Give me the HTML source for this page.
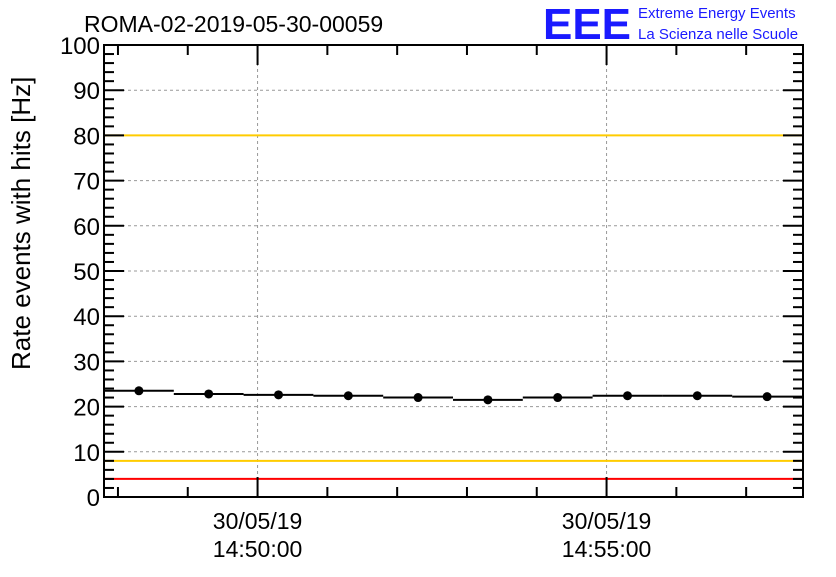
<!DOCTYPE html>
<html><head><meta charset="utf-8"><style>
body{margin:0;background:#fff;}
svg text{font-family:"Liberation Sans",sans-serif;}
</style></head><body>
<svg width="836" height="572" xmlns="http://www.w3.org/2000/svg">
<rect width="836" height="572" fill="#fff"/>
<text x="84" y="32" font-size="23">ROMA-02-2019-05-30-00059</text>
<text x="543" y="39" font-size="44" font-weight="bold" fill="#1a1aff" textLength="88" lengthAdjust="spacingAndGlyphs">EEE</text>
<text x="638" y="18" font-size="15" fill="#1a1aff">Extreme Energy Events</text>
<text x="638" y="39" font-size="15" fill="#1a1aff">La Scienza nelle Scuole</text>
<text transform="translate(30,370) rotate(-90)" font-size="26">Rate events with hits [Hz]</text>
<g id="grid"></g>
<g id="marks"></g>
<g id="axes"></g>
</svg>
<script>
const values=[23.5,22.8,22.6,22.4,22.0,21.5,22.0,22.4,22.4,22.2];
const yTicks=[0,10,20,30,40,50,60,70,80,90,100];
const xMajorLabels=[["30/05/19","14:50:00"],["30/05/19","14:55:00"]];
const xMajorMinutes=[2,7];
const refRed=[100,4];
const refOrange=[80,8];
const X0=104,X1=803,Y0=497,Y1=45;
const pxPerMin=69.8, startMin=-0.2;
function y(v){return Y0-(v/100)*(Y0-Y1);}
function x(m){return X0+(m-startMin)*pxPerMin;}
const NS="http://www.w3.org/2000/svg";
function mk(tag,attrs,parent){const e=document.createElementNS(NS,tag);for(const k in attrs)e.setAttribute(k,attrs[k]);parent.appendChild(e);return e;}
const grid=document.getElementById('grid'),marks=document.getElementById('marks'),axes=document.getElementById('axes');
yTicks.forEach(v=>{
 if(v>0&&v<100){const l=mk('line',{x1:X0,x2:X1,y1:y(v),y2:y(v),stroke:'#999','stroke-dasharray':'3,3'},grid);
 
 }
 const t=mk('text',{x:X0-4,y:y(v)+9,'font-size':24,'text-anchor':'end'},axes);t.textContent=v;
 
 
});
xMajorMinutes.forEach((m,i)=>{
 const l=mk('line',{x1:x(m),x2:x(m),y1:Y1,y2:Y0,stroke:'#999','stroke-dasharray':'3,3'},grid);
 
 
 const t=mk('text',{x:x(m),y:529,'font-size':23,'text-anchor':'middle'},axes);t.textContent=xMajorLabels[i][0];
 
 
 const t2=mk('text',{x:x(m),y:557,'font-size':23,'text-anchor':'middle'},axes);t2.textContent=xMajorLabels[i][1];
 
 
});
refRed.forEach(v=>{const l=mk('line',{x1:X0,x2:X1,y1:y(v),y2:y(v),stroke:'#ff0000','stroke-width':2},marks);
 
 });
refOrange.forEach(v=>{const l=mk('line',{x1:X0,x2:X1,y1:y(v),y2:y(v),stroke:'#ffcc00','stroke-width':2},marks);
 
 });
values.forEach((v,i)=>{
 const xa=x(i+startMin),xb=x(i+1+startMin),xc=(xa+xb)/2;
 const l=mk('line',{x1:xa,x2:Math.min(xb,X1),y1:y(v),y2:y(v),stroke:'#000','stroke-width':2},marks);
 
 
 const c=mk('circle',{cx:xc,cy:y(v),r:4.5,fill:'#000'},marks);
 
 
});
const f=mk('rect',{x:X0,y:Y1,width:X1-X0,height:Y0-Y1,fill:'none',stroke:'#000','stroke-width':2},axes);


for(let v=0;v<=100;v+=2){const len=v%10===0?20:10;
 mk('line',{x1:X0,x2:X0+len,y1:y(v),y2:y(v),stroke:'#000','stroke-width':2},axes);
 mk('line',{x1:X1,x2:X1-len,y1:y(v),y2:y(v),stroke:'#000','stroke-width':2},axes);}
for(let m=0;m<=10;m++){const xx=x(m);if(xx<X0||xx>X1)continue;const len=xMajorMinutes.includes(m)?20:10;
 mk('line',{x1:xx,x2:xx,y1:Y0,y2:Y0-len,stroke:'#000','stroke-width':2},axes);
 mk('line',{x1:xx,x2:xx,y1:Y1,y2:Y1+len,stroke:'#000','stroke-width':2},axes);}
</script>
</body></html>
